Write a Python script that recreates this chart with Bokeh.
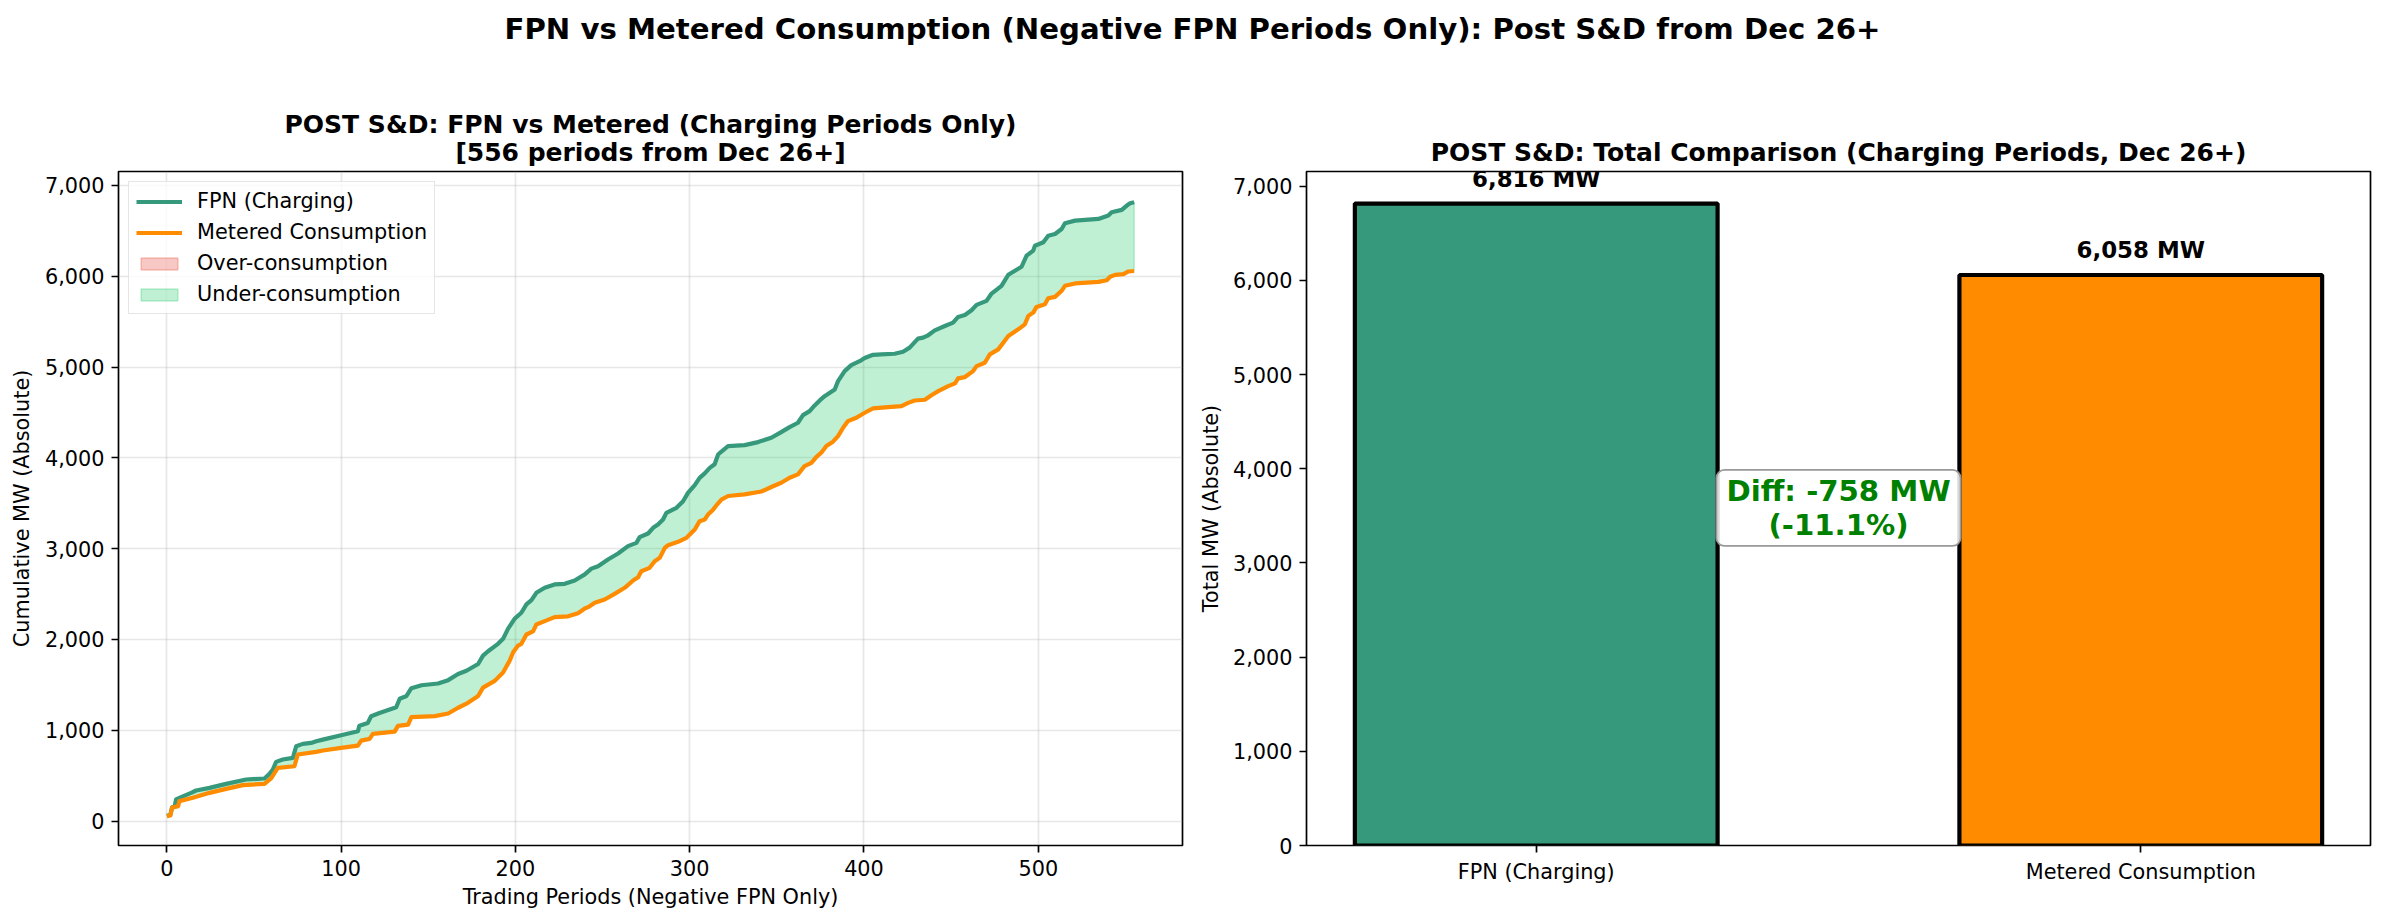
import numpy as np
from bokeh.plotting import figure
from bokeh.models import (Range1d, NumeralTickFormatter, FixedTicker, Legend,
                          LegendItem, Label, ColumnDataSource)
from bokeh.layouts import column, row
from bokeh.embed import file_html
from bokeh.resources import INLINE
from bokeh.core.properties import value

FONT = "DejaVu Sans"

# ---------------- data ----------------
suptitle = "FPN vs Metered Consumption (Negative FPN Periods Only): Post S&D from Dec 26+"
left_title_lines = ["POST S&D: FPN vs Metered (Charging Periods Only)", "[556 periods from Dec 26+]"]
right_title = "POST S&D: Total Comparison (Charging Periods, Dec 26+)"
left_xlabel = "Trading Periods (Negative FPN Only)"
left_ylabel = "Cumulative MW (Absolute)"
right_ylabel = "Total MW (Absolute)"

fpn_period = [0, 2, 3, 4.5, 5.3, 8.2, 13.9, 16.8, 24.5, 34.0, 45.5, 56.0, 58.9, 60.8, 62.7, 66.5, 72.3,
              74.2, 78.0, 82.8, 85.7, 89.5, 100, 109.6, 110.5, 115.3, 117.2, 122.0, 131.6, 133.6,
              137.5, 140.3, 146.1, 155.6, 161.4, 167.1, 171.9, 178.6, 181.4, 184.3, 190.0, 192.9,
              195.8, 199.6, 203.4, 206.3, 209.2, 212.0, 216.8, 222.5, 228.3, 234.0, 239.8, 243.6,
              247.4, 253.1, 258.9, 264.6, 269.4, 271.3, 276.1, 279.0, 281.8, 284.7, 286.6, 292.4,
              296.2, 299.0, 302.9, 305.7, 308.6, 311.5, 314.3, 316.3, 318.2, 322.0, 331.5, 339.2,
              346.8, 352.5, 357.3, 362.1, 365.0, 368.8, 371.7, 374.6, 377.4, 383.2, 385.1, 388.9,
              392.7, 397.5, 400.4, 405.2, 410.0, 417.6, 422.4, 426.2, 431.0, 433.9, 436.8, 440.6,
              446.4, 451.1, 454.0, 457.9, 461.7, 464.6, 470.3, 473.2, 478.9, 482.8, 486.6, 490.4,
              493.3, 497.1, 498.1, 502.9, 505.7, 509.6, 513.4, 515.3, 521.1, 534.5, 540.2, 542.1,
              547.9, 550.8, 552.7, 555]
fpn_cum = [62, 70, 150, 165, 238, 264, 311, 337, 366, 410, 458, 469, 520, 568, 652, 678, 696,
           824, 850, 861, 879, 897, 945, 989, 1051, 1081, 1154, 1190, 1253, 1348,
           1378, 1463, 1496, 1515, 1552, 1619, 1656, 1730, 1822, 1870, 1952, 2007,
           2119, 2230, 2294, 2386, 2433, 2514, 2569, 2606, 2613, 2650, 2717, 2780,
           2807, 2881, 2947, 3028, 3064, 3127, 3167, 3230, 3266, 3321, 3395, 3450,
           3523, 3615, 3700, 3780, 3830, 3890, 3930, 4037, 4070, 4129, 4140, 4174,
           4222, 4284, 4339, 4387, 4471, 4515, 4578, 4633, 4680, 4754, 4845, 4955,
           5021, 5065, 5100, 5135, 5140, 5147, 5169, 5214, 5313, 5324, 5350, 5405,
           5453, 5490, 5552, 5574, 5626, 5685, 5729, 5810, 5895, 6017, 6061, 6105,
           6227, 6282, 6337, 6374, 6447, 6466, 6521, 6584, 6613, 6632, 6669, 6705,
           6731, 6779, 6805, 6816]

met_period = [0, 2, 3, 6.5, 7.2, 14.9, 24.5, 34.0, 43.6, 56.0, 59.8, 61.8, 63.7, 73.2, 75.1, 85.7,
              89.5, 100, 109.6, 111.5, 116.3, 118.2, 130.7, 132.6, 138.4, 140.3, 153.7, 161.4,
              167.1, 171.9, 178.6, 181.4, 188.1, 192.9, 196.7, 198.7, 201.5, 203.4, 206.3, 210.1,
              212.0, 216.8, 222.5, 230.2, 235.9, 239.8, 241.7, 245.5, 251.2, 256.9, 262.7, 267.5,
              270.4, 272.2, 277.0, 279.9, 282.8, 285.7, 287.6, 293.3, 298.1, 300.0, 302.9, 305.7,
              308.6, 310.5, 313.4, 316.3, 318.2, 322.0, 331.5, 341.1, 346.8, 352.5, 357.3, 362.1,
              365.9, 369.8, 372.7, 375.5, 378.4, 382.2, 385.1, 388.0, 390.8, 395.6, 400.4, 405.2,
              413.8, 421.5, 425.3, 429.1, 434.9, 438.7, 442.6, 448.3, 452.2, 454.0, 457.9, 462.6,
              464.6, 469.3, 472.2, 477.0, 479.9, 482.8, 488.5, 492.3, 494.3, 497.1, 499.0, 503.8,
              505.7, 509.6, 513.4, 515.3, 521.1, 534.5, 539.3, 541.2, 544.1, 548.9, 551.7, 555]
met_cum = [55, 62, 148, 165, 220, 256, 311, 355, 396, 410, 469, 531, 586, 604, 733, 762,
           777, 806, 831, 886, 905, 960, 985, 1048, 1063, 1144, 1156, 1185,
           1248, 1293, 1378, 1470, 1544, 1637, 1767, 1859, 1933, 1952, 2055, 2090,
           2165, 2202, 2246, 2255, 2290, 2341, 2356, 2404, 2440, 2503, 2569, 2650,
           2686, 2752, 2789, 2862, 2899, 3009, 3039, 3075, 3119, 3156, 3211, 3303,
           3321, 3376, 3430, 3500, 3541, 3580, 3598, 3630, 3679, 3726, 3781, 3818,
           3910, 3946, 4012, 4057, 4130, 4178, 4240, 4332, 4405, 4442, 4497, 4545,
           4558, 4569, 4606, 4632, 4640, 4690, 4735, 4790, 4820, 4875, 4890, 4956,
           5011, 5048, 5140, 5195, 5269, 5343, 5416, 5471, 5564, 5600, 5663, 5692,
           5758, 5773, 5840, 5895, 5921, 5939, 5957, 5994, 6016, 6024, 6053, 6058]

bar_categories = ["FPN (Charging)", "Metered Consumption"]
bar_totals = [6816, 6058]

left_xticks = [0, 100, 200, 300, 400, 500]
yticks = [0, 1000, 2000, 3000, 4000, 5000, 6000, 7000]

# ---------------- style ----------------
FPN_COLOR = "#37997b"
MET_COLOR = "#ff8c00"
UNDER_COLOR = "#2ecc71"
OVER_COLOR = "#e74c3c"
TICK_FS = "20.8px"
LW = 1.7

HEAD_H = 167
TOP_B = 4
BOT_B = 75
FRAME_H = 674
PLOT_H = TOP_B + FRAME_H + BOT_B


def style_axes(p):
    for ax in p.axis:
        ax.major_tick_out = 7
        ax.major_tick_in = 0
        ax.minor_tick_out = 0
        ax.minor_tick_in = 0
        ax.major_tick_line_width = LW
        ax.major_tick_line_color = "black"
        ax.axis_line_color = None
        ax.major_label_text_font = FONT
        ax.major_label_text_font_size = TICK_FS
        ax.major_label_text_color = "black"
        ax.major_label_standoff = 7
        ax.axis_label_text_font = FONT
        ax.axis_label_text_font_size = TICK_FS
        ax.axis_label_text_font_style = "normal"
        ax.axis_label_text_color = "black"
        ax.axis_label_standoff = 8
    p.outline_line_color = "black"
    p.outline_line_width = LW
    p.outline_line_alpha = 1.0


# ---------------- header (titles) ----------------
W = 2384
head = figure(width=W, height=HEAD_H, x_range=Range1d(0, W), y_range=Range1d(HEAD_H, 0),
              output_backend="svg", toolbar_location=None, min_border=0,
              title_location=None, x_axis_location=None, y_axis_location=None)
head.grid.visible = False
head.outline_line_color = None
head.text(x=[1192], y=[28.5], text=[suptitle], text_align="center", text_baseline="alphabetic",
          text_font=value(FONT), text_font_style="bold", text_font_size="29.2px", text_color="black")
head.text(x=[650, 650], y=[123.5, 151.5], text=left_title_lines, text_align="center",
          text_baseline="alphabetic", text_font=value(FONT), text_font_style="bold",
          text_font_size="25px", text_color="black")
head.text(x=[1838], y=[151.5], text=[right_title], text_align="center",
          text_baseline="alphabetic", text_font=value(FONT), text_font_style="bold",
          text_font_size="25px", text_color="black")

# ---------------- left: cumulative ----------------
p1 = figure(width=1190, height=PLOT_H, x_range=Range1d(-27.75, 582.75), y_range=Range1d(-269, 7154),
            output_backend="svg", toolbar_location=None,
            min_border_left=118, min_border_right=8, min_border_top=TOP_B, min_border_bottom=BOT_B)
style_axes(p1)
p1.xaxis.ticker = FixedTicker(ticks=left_xticks)
p1.yaxis.ticker = FixedTicker(ticks=yticks)
p1.yaxis.formatter = NumeralTickFormatter(format="0,0")
p1.xaxis.axis_label = left_xlabel
p1.yaxis.axis_label = left_ylabel
p1.xaxis.axis_label_standoff = 6
p1.grid.grid_line_color = "#b0b0b0"
p1.grid.grid_line_alpha = 0.3
p1.grid.grid_line_width = LW

# under-consumption band: FPN above metered
fill_x = list(fpn_period) + list(met_period[::-1])
fill_y = list(fpn_cum) + list(met_cum[::-1])
r_under = p1.patch(x=fill_x, y=fill_y, fill_color=UNDER_COLOR, fill_alpha=0.3,
                   line_color=UNDER_COLOR, line_alpha=0.3, line_width=1.5)
# over-consumption band: metered never exceeds FPN here, so it has zero area
over_x = list(fpn_period) + list(fpn_period[::-1])
over_y = list(fpn_cum) + list(fpn_cum[::-1])
r_over = p1.patch(x=over_x, y=over_y, fill_color=OVER_COLOR, fill_alpha=0.3,
                  line_color=OVER_COLOR, line_alpha=0.3, line_width=1.5)
r_fpn = p1.line(fpn_period, fpn_cum, line_color=FPN_COLOR, line_width=4.2, line_join="round")
r_met = p1.line(met_period, met_cum, line_color=MET_COLOR, line_width=4.2, line_join="round")

legend = Legend(items=[LegendItem(label="FPN (Charging)", renderers=[r_fpn]),
                       LegendItem(label="Metered Consumption", renderers=[r_met]),
                       LegendItem(label="Over-consumption", renderers=[r_over]),
                       LegendItem(label="Under-consumption", renderers=[r_under])],
                location="top_left")
legend.margin = 10
legend.padding = 7
legend.spacing = 7
legend.glyph_width = 46
legend.glyph_height = 15
legend.label_height = 21
legend.label_standoff = 15
legend.label_text_font = FONT
legend.label_text_font_size = TICK_FS
legend.label_text_color = "black"
legend.border_line_color = "#cccccc"
legend.border_line_width = LW
legend.background_fill_color = "white"
legend.background_fill_alpha = 0.8
p1.add_layout(legend)

# ---------------- right: totals ----------------
bar_x = list(range(len(bar_categories)))
src = ColumnDataSource(dict(x=bar_x, top=bar_totals, color=[FPN_COLOR, MET_COLOR]))
p2 = figure(width=1194, height=PLOT_H, x_range=Range1d(-0.38, 1.38),
            y_range=Range1d(0, max(bar_totals) * 1.05),
            output_backend="svg", toolbar_location=None,
            min_border_left=116, min_border_right=14, min_border_top=TOP_B, min_border_bottom=BOT_B)
style_axes(p2)
p2.grid.visible = False
p2.vbar(x="x", top="top", width=0.6, fill_color="color", line_color="black", line_width=4.2,
        source=src)
p2.xaxis.ticker = FixedTicker(ticks=bar_x)
p2.xaxis.major_label_overrides = {i: c for i, c in zip(bar_x, bar_categories)}
p2.yaxis.ticker = FixedTicker(ticks=yticks)
p2.yaxis.formatter = NumeralTickFormatter(format="0,0")
p2.yaxis.axis_label = right_ylabel
p2.yaxis.axis_label_standoff = 7

for xi, v in zip(bar_x, bar_totals):
    p2.add_layout(Label(x=xi, y=v, y_offset=24.5, text=f"{v:,} MW", text_align="center",
                        text_baseline="alphabetic", text_font=FONT, text_font_style="bold",
                        text_font_size="22.9px", text_color="black"))

diff = bar_totals[1] - bar_totals[0]
pct = diff / bar_totals[0] * 100
p2.add_layout(Label(x=0.5, y=3584, text=f"Diff: {diff:,} MW\n({pct:.1f}%)",
                    text_align="center", text_baseline="middle", text_font=FONT,
                    text_font_style="bold", text_font_size="29.2px", text_color="green",
                    text_line_height=1.0,
                    background_fill_color="white", background_fill_alpha=0.85,
                    border_line_color="#999999", border_line_width=LW,
                    padding=dict(x=10, y=4), border_radius=8))

layout = column(head, row(p1, p2))
open("out.html", "w").write(file_html(layout, INLINE))
